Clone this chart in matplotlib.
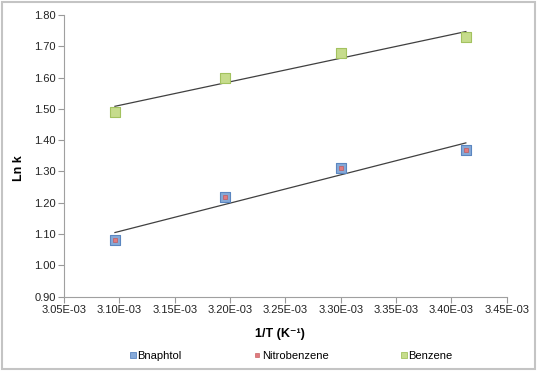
import numpy as np
import matplotlib
matplotlib.use("Agg")
import matplotlib.pyplot as plt
from matplotlib.patches import Rectangle
from matplotlib.lines import Line2D

plt.rcParams['font.family'] = ['Liberation Sans', 'DejaVu Sans']

# 1/T values (K^-1)
inv_T = [3.096e-3, 3.195e-3, 3.300e-3, 3.413e-3]
# Ln k per solvent
bnaphtol = [1.08, 1.22, 1.31, 1.37]
nitrobenzene = [1.08, 1.22, 1.31, 1.37]
benzene = [1.49, 1.60, 1.68, 1.73]

x_ticks = [3.05e-3, 3.10e-3, 3.15e-3, 3.20e-3, 3.25e-3, 3.30e-3, 3.35e-3, 3.40e-3, 3.45e-3]
y_ticks = [0.90, 1.00, 1.10, 1.20, 1.30, 1.40, 1.50, 1.60, 1.70, 1.80]

fig = plt.figure(figsize=(5.38, 3.71), dpi=100)
ax = fig.add_axes([0.119, 0.2003, 0.823, 0.7593])

x = np.array(inv_T)
# linear trendlines through each series
for ys in (bnaphtol, benzene):
    m, b = np.polyfit(x, ys, 1)
    ax.plot([x[0], x[-1]], [m * x[0] + b, m * x[-1] + b], color='#404040', lw=0.9, zorder=2)

ax.scatter(inv_T, bnaphtol, marker='s', s=42, color='#86a9d8', edgecolors='#5b86c0', linewidths=0.8, zorder=3)
ax.scatter(inv_T, nitrobenzene, marker='s', s=10, color='#e07a80', edgecolors='#c0504d', linewidths=0.4, zorder=4)
ax.scatter(inv_T, benzene, marker='s', s=42, color='#c6dc8c', edgecolors='#a3c25f', linewidths=0.8, zorder=3)

ax.set_xlim(3.05e-3, 3.45e-3)
ax.set_ylim(0.90, 1.80)
ax.set_xticks(x_ticks)
ax.set_xticklabels(['%.2fE-03' % (t * 1e3) for t in x_ticks])
ax.set_yticks(y_ticks)
ax.set_yticklabels(['%.2f' % t for t in y_ticks])
ax.tick_params(labelsize=8, colors='#999999', labelcolor='#222222', length=4, width=0.8, pad=2)

for s in ['top', 'right']:
    ax.spines[s].set_visible(False)
for s in ['left', 'bottom']:
    ax.spines[s].set_color('#a0a0a0')
    ax.spines[s].set_linewidth(0.8)

fig.text(0.52, 0.1, '1/T (K\u207b\u00b9)', ha='center', va='center', fontsize=9, fontweight='bold')
fig.text(0.035, 0.547, 'Ln k', ha='center', va='center', rotation=90, fontsize=9, fontweight='bold')

handles = [
    Line2D([], [], ls='none', marker='s', ms=5, mfc='#86a9d8', mec='#5b86c0', mew=0.6),
    Line2D([], [], ls='none', marker='s', ms=3.5, mfc='#e07a80', mec='#c0504d', mew=0.4),
    Line2D([], [], ls='none', marker='s', ms=5, mfc='#c6dc8c', mec='#a3c25f', mew=0.6),
]
fig.legend(handles, ['Bnaphtol', 'Nitrobenzene', 'Benzene'], loc='center', bbox_to_anchor=(0.541, 0.04),
           ncol=3, frameon=False, fontsize=8, handlelength=0.6, handletextpad=0.15, columnspacing=6.45)

fig.patches.append(Rectangle((0.003, 0.005), 0.992, 0.99, transform=fig.transFigure, fill=False,
                             edgecolor='#c4c4c4', lw=1.5))

fig.savefig('out.png', dpi=100)
